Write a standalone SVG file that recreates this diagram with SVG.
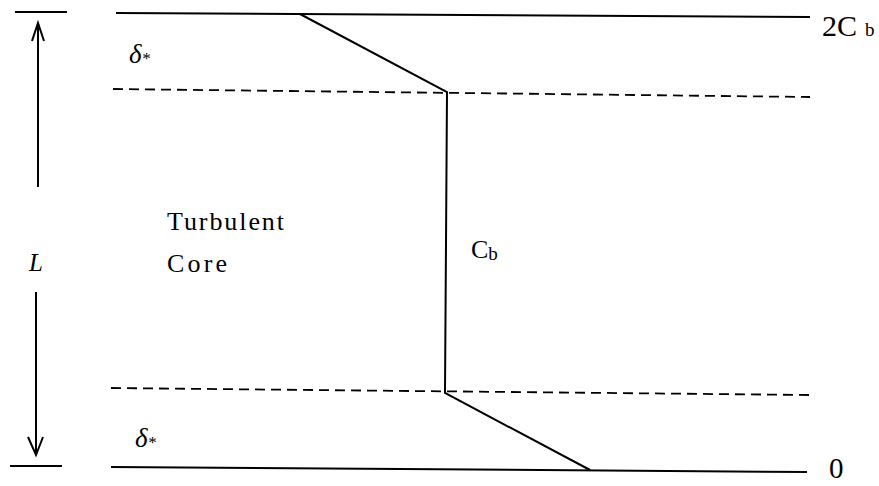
<svg xmlns="http://www.w3.org/2000/svg" width="879" height="486" viewBox="0 0 879 486">
<style>
.s{stroke:#000;stroke-width:2;fill:none;stroke-linecap:butt}
.d{stroke:#000;stroke-width:1.8;fill:none;stroke-dasharray:10 6}
.t{font-family:"Liberation Serif","DejaVu Serif",serif;fill:#000}
.i{font-style:italic}
</style>
<rect width="879" height="486" fill="#fff"/>
<g id="boundaries">
<line class="s" x1="15" y1="12" x2="67" y2="12"/>
<line class="s" x1="10" y1="466" x2="62" y2="466"/>
<line class="s" x1="116" y1="13" x2="810" y2="17"/>
<line class="s" x1="111" y1="467" x2="807" y2="472"/>
<line class="d" x1="113" y1="89" x2="810" y2="97"/>
<line class="d" x1="111" y1="388" x2="810" y2="395"/>
</g>
<g id="dimension-L">
<line class="s" x1="38" y1="24" x2="38" y2="187"/>
<polyline class="s" points="32,41 38,23 44,41"/>
<line class="s" x1="36" y1="292" x2="36" y2="454"/>
<polyline class="s" points="28,437 36,455 43,437"/>
<text class="t i" x="36" y="271" font-size="25" text-anchor="middle">L</text>
</g>
<g id="profile">
<polyline class="s" points="300,14 447,92 445,393 590,470"/>
</g>
<g id="labels">
<text class="t i" x="129" y="63" font-size="27">δ<tspan font-size="17" dy="1">*</tspan></text>
<text class="t i" x="135" y="447" font-size="27">δ<tspan font-size="17" dy="1">*</tspan></text>
<text class="t" x="167" y="230" font-size="26" textLength="117" lengthAdjust="spacing">Turbulent</text>
<text class="t" x="167" y="272" font-size="26" textLength="60" lengthAdjust="spacing">Core</text>
<text class="t" x="471" y="258" font-size="26">C<tspan font-size="19" dy="2">b</tspan></text>
<text class="t" x="822" y="36" font-size="30">2C<tspan font-size="19" dx="8">b</tspan></text>
<text class="t" x="829" y="478" font-size="29">0</text>
</g>
</svg>
